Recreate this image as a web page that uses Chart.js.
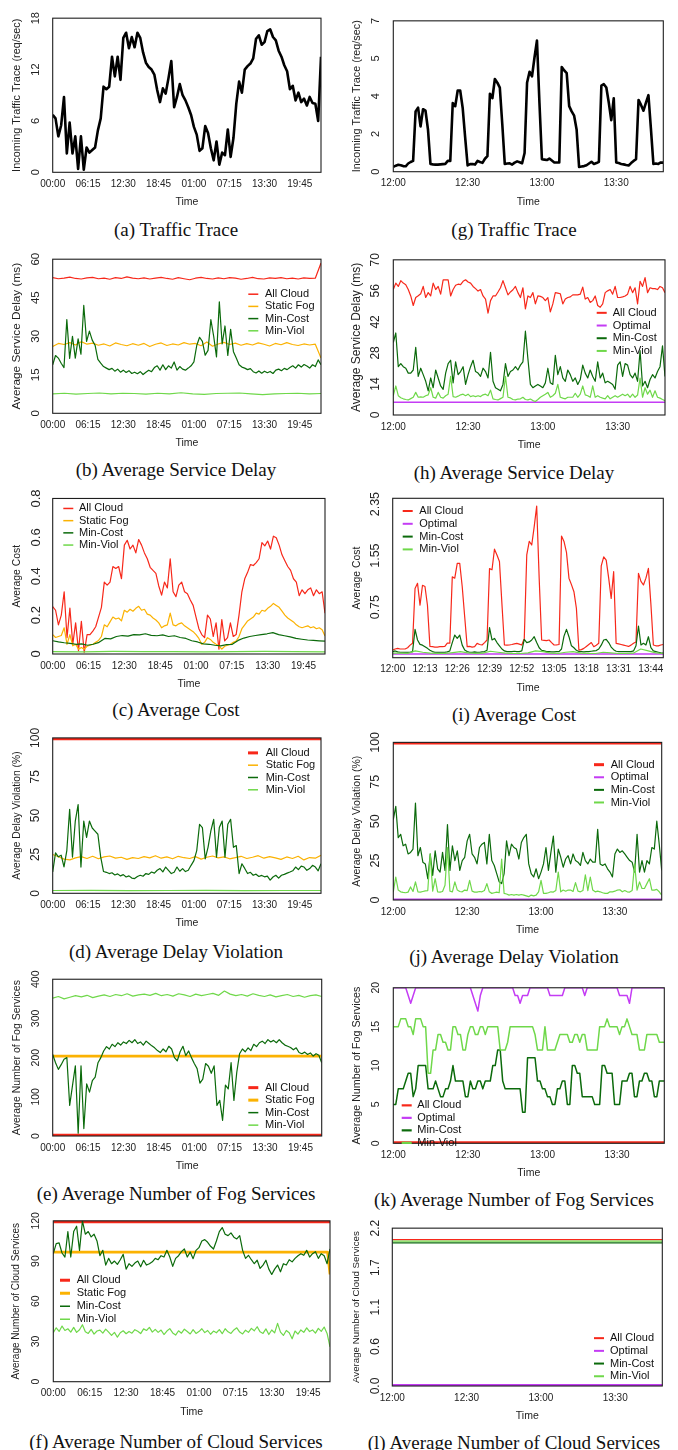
<!DOCTYPE html>
<html>
<head>
<meta charset="utf-8">
<script src="https://cdn.jsdelivr.net/npm/chart.js@4.4.1/dist/chart.umd.min.js"></script>
<style>
  html, body { margin: 0; padding: 0; background: #fff; }
  #page { position: relative; width: 678px; height: 1450px; overflow: hidden; }
  #page canvas { position: absolute; }
  .cap {
    position: absolute; width: 338px; text-align: center; white-space: nowrap;
    font-family: "Liberation Serif", "Times New Roman", serif; font-size: 19px;
    line-height: 22px; color: #111;
  }
</style>
</head>
<body>
<div id="page"></div>
<script>
// ── Time axes ──────────────────────────────────────────────────────────
// Left column: two days, minutes from start. Right column: minutes after 12:00.
const LONG_END = 2850;
const LONG_TICKS = [0, 375, 750, 1125, 1500, 1875, 2250, 2625];
const LONG_LABELS = ['00:00', '06:15', '12:30', '18:45', '01:00', '07:15', '13:30', '19:45'];
const SHORT_END = 109;
const SHORT_TICKS = [0, 30, 60, 90];
const SHORT_LABELS = ['12:00', '12:30', '13:00', '13:30'];
const COST_TICKS = [0, 13, 26, 39, 52, 65, 78, 91, 104];
const COST_LABELS = ['12:00', '12:13', '12:26', '12:39', '12:52', '13:05', '13:18', '13:31', '13:44'];

// ── Y ticks ────────────────────────────────────────────────────────────
const yTicksA = [0, 6, 12, 18],            yLabelsA = ['0', '6', '12', '18'];
const yTicksB = [0, 15, 30, 45, 60],       yLabelsB = ['0', '15', '30', '45', '60'];
const yTicksC = [0, 0.2, 0.4, 0.6, 0.8],   yLabelsC = ['0', '0.2', '0.4', '0.6', '0.8'];
const yTicksD = [0, 25, 50, 75, 100],      yLabelsD = ['0', '25', '50', '75', '100'];
const yTicksE = [0, 100, 200, 300, 400],   yLabelsE = ['0', '100', '200', '300', '400'];
const yTicksF = [0, 30, 60, 90, 120],      yLabelsF = ['0', '30', '60', '90', '120'];
const yTicksG = [0, 1.75, 3.5, 5.25, 7],   yLabelsG = ['0', '2', '4', '5', '7'];
const yTicksH = [0, 14, 28, 42, 56, 70],   yLabelsH = ['0', '14', '28', '42', '56', '70'];
const yTicksI = [0.75, 1.55, 2.35],        yLabelsI = ['0.75', '1.55', '2.35'];
const yTicksJ = [0, 25, 50, 75, 100],      yLabelsJ = ['0', '25', '50', '75', '100'];
const yTicksK = [0, 5, 10, 15, 20],        yLabelsK = ['0', '5', '10', '15', '20'];
const yTicksL = [0, 0.55, 1.1, 1.65, 2.2], yLabelsL = ['0.0', '0.6', '1.1', '1.7', '2.2'];

// ── (a) traffic, two days ──────────────────────────────────────────────
const trafficA = [6.7,6.3,4.2,5.5,8.8,2.2,5.8,2.2,4.2,0.4, 4.2,0.3,2.9,2.3,2.6,2.9,4.9,6.3,10.0,9.7,
  10.0,13.5,11.2,13.5,10.8,15.7,16.3,14.5,15.8,14.6, 16.3,15.7,14.0,12.8,12.3,12.0,11.4,9.6,8.2,9.8,
  9.2,11.0,13.0,7.6,8.8,10.3,9.0,8.4,7.6,6.7, 5.3,4.4,2.5,2.8,5.4,4.6,2.8,1.4,3.6,0.9,
  2.3,2.0,5.0,1.8,4.0,8.0,10.6,9.3,12.0,12.4, 12.7,13.3,15.6,16.0,14.9,15.2,16.5,16.7,15.8,15.4,
  14.2,13.5,12.5,11.8,9.7,10.1,8.4,9.3,8.2,8.6, 7.8,8.8,8.1,8.0,6.0,13.5];

// ── (b) service delay, two days ────────────────────────────────────────
const delayCloudB = [52.8,52.4,52.6,53.0,52.5,52.3,52.7,52.9,52.4,52.6, 52.2,52.8,52.5,53.1,52.6,52.4,52.7,52.3,52.6,52.9,
  52.5,52.2,52.8,52.4,52.0,52.6,52.9,52.5,52.3,52.7, 52.4,52.8,52.6,52.2,52.5,52.9,52.4,52.3,52.7,52.5,
  52.8,52.4,52.6,52.3,52.7,52.5,52.6,58.5];
const delayFogB = [26.0,27.2,26.8,27.5,26.6,27.9,26.9,27.3,26.5,27.0, 26.2,27.4,26.8,26.3,27.1,26.5,27.2,26.0,26.9,27.4,
  26.4,27.0,26.6,27.5,26.9,27.2,26.3,27.8,26.1,27.0, 27.6,26.8,27.3,26.5,27.1,26.6,27.4,26.9,26.2,27.2,
  26.7,27.5,26.8,26.4,27.0,26.6,26.9,21.5];
const delayMinCostB = [18.9,22.5,21.5,19.5,17.8,36.5,21.4,30.0,21.5,29.0, 23.0,42.0,28.0,32.0,28.5,26.5,21.0,19.5,18.2,17.6,
  17.0,17.5,16.4,17.2,16.0,16.8,15.9,16.6,15.5,16.0, 15.4,16.2,15.1,16.0,16.8,16.2,17.8,18.5,16.8,18.9,
  17.0,18.5,17.6,20.0,16.8,18.2,17.2,16.8,17.6,18.5, 20.0,26.4,29.6,28.0,22.6,24.5,36.5,30.0,22.0,43.4,
  27.0,34.0,22.5,32.7,24.0,21.5,18.9,18.0,17.6,17.0, 17.4,16.2,15.7,16.5,15.6,16.4,15.8,16.3,15.5,16.8,
  17.2,16.6,17.5,17.0,17.8,18.5,17.6,18.9,18.0,19.0, 18.4,17.6,18.9,18.2,20.8,18.9];
const delayMinViolB = [7.6,7.8,7.5,7.7,7.9,7.6,7.8,7.7,7.5,7.8,7.6,8.0,7.6,7.4,7.7,7.8,7.9,7.6,7.3,7.6,7.7,7.8,7.6,7.7];

// ── (c) cost, two days ─────────────────────────────────────────────────
const costCloudC = [0.244,0.225,0.15,0.2,0.32,0.084,0.236,0.05,0.16,0.017, 0.168,0.008,0.1,0.1,0.118,0.14,0.19,0.24,0.37,0.354,
  0.37,0.45,0.44,0.45,0.387,0.56,0.585,0.54,0.56,0.52, 0.589,0.56,0.52,0.49,0.446,0.43,0.415,0.35,0.303,0.37,
  0.34,0.49,0.32,0.295,0.354,0.37,0.32,0.31,0.278,0.25, 0.19,0.13,0.1,0.084,0.2,0.18,0.09,0.16,0.025,0.177,
  0.067,0.084,0.16,0.09,0.1,0.2,0.32,0.387,0.42,0.46, 0.455,0.47,0.49,0.573,0.556,0.581,0.54,0.606,0.598,0.56,
  0.51,0.48,0.45,0.43,0.387,0.37,0.30,0.33,0.31,0.33, 0.34,0.30,0.33,0.31,0.32,0.21];
const costFogC = [0.10,0.085,0.09,0.095,0.135,0.05,0.10,0.042,0.05,0.025, 0.034,0.025,0.04,0.045,0.05,0.06,0.07,0.09,0.15,0.14,
  0.165,0.19,0.18,0.185,0.17,0.225,0.215,0.23,0.22,0.235, 0.245,0.225,0.23,0.205,0.2,0.185,0.175,0.16,0.135,0.145,
  0.15,0.21,0.15,0.145,0.155,0.16,0.145,0.135,0.125,0.115, 0.1,0.08,0.05,0.06,0.084,0.075,0.06,0.05,0.042,0.025,
  0.04,0.045,0.05,0.06,0.067,0.09,0.13,0.15,0.17,0.18, 0.19,0.21,0.205,0.225,0.22,0.235,0.245,0.26,0.25,0.24,
  0.22,0.2,0.185,0.175,0.165,0.15,0.14,0.135,0.14,0.145, 0.135,0.14,0.13,0.135,0.125,0.093];
const costMinCostC = [0.068,0.062,0.058,0.055,0.05,0.052,0.045,0.05,0.06,0.08, 0.078,0.09,0.095,0.092,0.1,0.098,0.104,0.096,0.094,0.098,
  0.09,0.094,0.085,0.08,0.068,0.062,0.052,0.05,0.045,0.042, 0.048,0.05,0.07,0.082,0.09,0.095,0.1,0.104,0.11,0.1,
  0.094,0.088,0.08,0.076,0.072,0.07,0.068,0.066];
const costMinViolC = [0.012,0.011,0.013,0.012,0.012,0.011,0.012,0.013,0.012,0.011];

// ── (d) delay violation, two days ──────────────────────────────────────
const violCloudD = [100, 100];
const violFogD = [25.0,23.5,22.0,21.5,22.8,23.6,22.4,23.8,22.2,23.4, 24.0,22.6,23.2,21.8,23.0,22.4,23.6,22.8,24.2,22.6,
  23.4,22.2,23.8,22.9,22.4,23.6,22.0,23.2,24.0,22.8, 23.4,22.2,23.0,23.8,22.4,23.2,24.2,22.6,23.6,22.8,
  21.8,23.4,22.4,23.8,21.5,23.0,22.6,24.5];
const violMinCostD = [13.7,26.0,23.5,24.5,17.0,27.5,54.0,23.3,46.5,57.1, 16.9,46.5,36.0,46.5,42.0,40.0,38.0,23.3,14.0,13.5,
  12.7,13.2,11.8,12.5,11.2,12.0,10.5,11.2,9.8,9.5, 10.8,11.6,11.0,12.7,12.2,13.7,13.0,14.8,15.9,13.8,
  16.9,14.8,12.7,13.5,16.9,14.2,15.9,14.0,14.8,18.0, 21.0,27.5,44.4,42.3,22.2,29.6,40.2,47.6,23.3,42.3,
  46.5,23.3,44.4,47.6,29.6,30.7,12.7,19.0,16.0,12.7, 13.5,11.6,12.3,10.8,11.5,10.6,11.0,8.5,10.5,11.6,
  9.8,11.6,12.2,13.0,13.7,14.5,16.9,15.2,17.5,16.9, 14.8,15.9,18.0,16.9,14.5,19.0];
const violMinViolD = [1.8,1.9,1.7,1.8,1.9,1.7,1.8,1.8];

// ── (e) fog services, two days ─────────────────────────────────────────
const fogCloudE = [0, 0];
const fogStaticE = [204, 204];
const fogMinCostE = [208,187,170,182,196,200,78,129,179,7, 179,19,133,112,141,150,187,200,217,228,
  222,234,228,238,232,240,236,244,238,246, 236,240,232,242,236,230,225,218,213,222,
  215,229,222,200,192,215,229,205,217,200, 185,172,135,145,185,178,160,179,78,91,
  40,130,120,187,91,162,210,222,215,225, 218,234,228,238,242,236,246,240,244,238,
  246,238,232,229,226,220,225,213,210,214, 208,212,204,210,206,187];
const fogMinViolE = [352,356,350,354,358,355,359,353,357,360, 356,361,358,363,357,360,362,359,364,358,
  361,357,363,360,356,362,358,361,364,359, 370,362,358,361,357,363,359,356,360,355,
  358,361,356,359,354,358,360,356];

// ── (f) cloud services, two days ───────────────────────────────────────
const cloudAllF = [120, 120];
const cloudStaticF = [96.7, 96.7, 80];
const cloudStaticFX = [0, 2825, 2850];
const cloudMinCostF = [95.5,103,103.5,96,93,112,93,112,116,98, 120,110,112,108,110,105,94,98,87,92,
  88,90,87.5,91,95,84,88,86,88.5,90, 85.7,90.6,87,88,89.4,92,91,94,93,98,
  93,86,92,94,97,99,93,96.7,91.8,98, 100,105,106,104,101,99,105,112,115,110,
  109,111,107.8,106.5,109,98,92,94.3,91,88, 90.6,84.5,87,90.6,84,80,84,87,82,88,
  87,91,89.4,92,94,95.5,94.3,98,93,95.5, 97,92,95.5,94,88,99];
const cloudMinViolF = [36.5,40.2,37.5,41.5,38.2,39.5,37.0,40.5,36.8,38.8, 42.5,37.2,36.0,39.0,35.5,37.8,38.5,36.2,39.2,37.0,
  34.5,36.8,33.2,36.5,38.0,35.8,37.5,36.2,38.8,37.6, 35.9,39.4,38.2,40.5,37.0,39.0,36.8,38.5,35.2,37.8,
  39.6,36.4,34.8,38.0,36.2,39.2,37.5,35.6,38.8,36.0, 37.4,39.5,36.6,38.2,35.4,37.8,36.5,38.9,35.8,39.5,
  37.2,36.0,38.6,40.2,37.0,35.6,38.4,36.8,39.8,38.0, 41.0,37.2,36.0,39.4,35.2,38.6,36.4,43.5,37.0,34.5,
  38.2,36.5,32.0,37.8,35.5,38.6,36.8,40.2,37.4,38.6, 36.2,39.8,37.5,40.8,36.0,26.0];

// ── (g) traffic, one minute steps from 12:00 ───────────────────────────
const trafficG = [0.22,0.28,0.32,0.30,0.26,0.25,0.38,0.45,0.50,2.80, 2.97,2.10,2.90,2.83,1.96,0.36,0.34,0.33,0.33,0.34,
  0.35,0.36,0.50,0.50,3.19,3.04,3.77,3.77,2.97,1.60, 0.29,0.35,0.36,0.33,0.50,0.45,0.41,0.60,0.72,3.62,
  3.41,4.30,4.13,3.90,2.20,0.36,0.38,0.39,0.33,0.42, 0.48,0.44,0.39,0.87,4.13,4.64,4.42,5.30,6.09,3.20,
  0.58,0.56,0.54,0.61,0.52,0.43,0.43,0.43,4.86,4.70, 4.57,3.04,2.80,2.60,1.96,0.22,0.24,0.26,0.30,0.38,
  0.46,0.36,0.40,0.46,3.99,4.06,3.91,3.20,2.39,3.41, 0.43,0.40,0.36,0.34,0.31,0.29,0.40,0.50,0.58,3.33,
  3.10,2.83,3.20,3.55,2.00,0.36,0.38,0.36,0.43,0.42];

// ── (h) service delay ──────────────────────────────────────────────────
const delayCloudH = [56.6,59.5,58.0,60.6,59.5,58.8,56.6,53.7,49.4,53.0, 53.8,54.7,58.0,53.0,55.2,53.7,59.5,56.6,58.0,54.5,
  61.0,61.0,61.0,53.7,56.6,58.5,59.0,58.8,60.3,61.0, 60.0,59.5,58.0,57.0,55.9,56.6,53.7,52.3,46.0,51.6,
  53.7,53.7,55.5,57.4,60.6,57.4,54.2,55.5,56.5,58.0, 55.2,53.0,57.4,47.9,53.7,53.0,55.2,50.1,53.7,53.5,
  53.0,51.6,53.0,46.5,50.1,55.2,55.0,54.7,50.1,52.3, 53.0,53.3,54.2,54.2,54.2,54.5,57.7,52.3,53.0,50.8,
  51.6,53.7,49.4,48.6,50.1,55.2,56.0,56.6,54.5,58.0, 53.0,53.0,53.3,53.7,54.5,58.0,55.2,57.4,50.1,60.3,
  58.0,62.0,55.2,57.4,57.0,57.0,56.6,58.0,57.4,55.2];
const delayOptH = [5.8, 5.8];
const delayMinCostH = [32.7,37.0,21.8,23.2,21.8,21.1,18.9,18.9,20.3,30.5, 17.4,21.1,18.2,15.2,10.9,16.7,12.3,20.3,16.7,13.1,
  11.6,18.9,23.2,24.7,14.5,24.0,18.2,19.6,21.8,13.8, 18.2,21.8,24.7,19.6,18.9,17.4,21.1,19.6,16.7,28.3,
  15.2,12.3,11.6,10.9,13.8,23.2,17.4,19.6,20.3,21.8, 20.3,22.5,24.0,37.8,25.4,13.8,12.3,13.1,13.8,13.1,
  12.3,14.5,21.1,14.5,13.8,26.9,18.2,21.8,16.7,15.2, 20.3,18.2,15.2,16.7,13.8,16.0,22.5,18.9,16.7,20.3,
  17.4,15.2,24.0,16.7,18.9,14.5,15.2,14.5,13.8,11.6, 22.5,24.0,17.4,23.2,22.5,18.2,16.7,18.9,15.2,29.0,
  13.1,15.2,12.3,16.0,18.2,16.7,19.6,21.8,31.2,17.4];
const delayMinViolH = [8.7,13.1,8.7,7.8,7.3,7.0,6.8,7.4,8.0,10.2, 8.0,8.2,8.0,8.7,9.1,12.3,8.0,7.6,10.2,8.0,
  7.6,8.7,9.4,17.4,8.3,8.0,8.5,9.1,9.4,8.7, 9.4,8.3,8.7,8.3,8.7,8.3,9.1,9.4,8.7,11.2,
  7.3,7.0,6.8,7.4,8.0,17.4,8.0,7.7,7.0,6.8, 7.2,7.3,8.0,7.0,6.8,7.2,6.5,6.1,7.0,8.0,
  8.7,9.4,10.2,8.0,8.7,9.8,13.8,8.0,7.6,7.3, 8.0,8.0,8.0,9.8,8.0,9.4,13.1,9.1,8.7,8.0,
  13.1,8.0,8.7,8.0,7.6,7.3,8.7,7.3,8.0,8.7, 8.0,8.7,9.4,8.7,9.4,8.0,9.4,8.0,9.0,16.7,
  8.0,12.3,9.4,11.2,8.0,10.9,8.0,7.6,7.0,6.5];

// ── (i) cost ───────────────────────────────────────────────────────────
const costCloudI = [0.084,0.10,0.11,0.10,0.10,0.10,0.12,0.16,0.19,1.04, 1.12,0.78,1.09,1.07,0.78,0.14,0.136,0.13,0.13,0.136,
  0.136,0.14,0.19,0.19,1.22,1.20,1.43,1.43,1.07,0.60, 0.136,0.14,0.13,0.136,0.188,0.17,0.162,0.20,0.24,1.35,
  1.33,1.65,1.56,1.46,0.80,0.162,0.16,0.162,0.17,0.18, 0.188,0.175,0.162,0.265,1.56,1.77,1.715,2.00,2.32,1.20,
  0.24,0.235,0.23,0.24,0.20,0.162,0.165,0.17,1.855,1.77, 1.60,1.20,1.10,0.99,0.73,0.084,0.09,0.11,0.14,0.17,
  0.20,0.136,0.16,0.188,1.39,1.53,1.48,1.20,0.887,1.30, 0.188,0.18,0.17,0.16,0.15,0.14,0.16,0.19,0.21,1.275,
  1.15,1.094,1.20,1.353,0.80,0.162,0.15,0.148,0.162,0.17];
const costOptI = [0.022, 0.022];
const costMinCostI = [0.06,0.07,0.055,0.05,0.05,0.05,0.05,0.05,0.06,0.405, 0.24,0.172,0.16,0.136,0.11,0.08,0.06,0.05,0.05,0.05,
  0.05,0.05,0.055,0.07,0.2,0.317,0.265,0.317,0.16,0.084, 0.06,0.05,0.05,0.055,0.05,0.05,0.055,0.06,0.08,0.431,
  0.24,0.265,0.2,0.15,0.1,0.07,0.06,0.06,0.06,0.065, 0.06,0.06,0.07,0.25,0.2,0.21,0.24,0.291,0.2,0.12,
  0.08,0.07,0.06,0.06,0.055,0.055,0.06,0.06,0.1,0.3, 0.405,0.291,0.15,0.12,0.08,0.06,0.06,0.055,0.06,0.06,
  0.065,0.07,0.075,0.1,0.16,0.24,0.25,0.2,0.13,0.09, 0.065,0.06,0.06,0.06,0.06,0.06,0.06,0.07,0.15,0.457,
  0.162,0.188,0.162,0.291,0.12,0.07,0.06,0.05,0.04,0.035];
const costMinViolI = [0.035,0.035,0.03,0.07,0.05,0.035,0.03,0.03,0.045,0.06, 0.04,0.03,0.035,0.065,0.05,0.035,0.03,0.03,0.04,0.07,
  0.06,0.035,0.03,0.05,0.06,0.035,0.03,0.03,0.05,0.04, 0.03,0.03,0.035,0.1,0.07,0.04,0.03];

// ── (j) delay violation ────────────────────────────────────────────────
const violCloudJ = [100, 100];
const violOptJ = [0.3, 0.3];
const violMinCostJ = [51,59.4,39.6,41.7,34.4,35.4,29.2,30.2,32.3,61.5, 28.1,33.3,24,22.9,13.5,29.2,15.6,31.2,19.8,17.7,
  30.2,18.8,47.9,18.8,34.4,25,31.2,18.8,25,27.1, 37.5,41.7,29.2,27.1,22.9,33.3,35.4,36.5,22.9,41.7,
  25,21.9,16.7,11.5,10.4,16.7,37.5,28.1,35.4,33.3, 32.3,26,36.5,39.6,41.7,22.9,16.7,14.6,19.8,13.5,
  17.7,22.9,33.3,18.8,30.2,40.6,17.7,32.3,27.1,20.8, 26,28.1,22.9,29.2,25,24,21.9,30.2,25,22.9,
  26,24,24,44.8,22.9,21.9,22.9,19.8,17.7,14.6, 29.2,32.3,30.2,31.2,29.2,27.1,25,24,17.7,41.7,
  17.7,25,17.7,25,22.9,33.3,32.3,50,35.4,18.8];
const violMinViolJ = [5.2,14.6,6.3,5.2,4.8,4.6,5.0,8.3,5.4,11.5, 5.2,5.0,5.4,5.8,6.0,29.2,5.6,13.5,5.2,5.0,
  5.4,9.4,33.3,5.6,5.2,11.5,6.3,5.4,5.2,6.3, 6.0,12.5,5.6,5.0,5.0,5.4,5.2,6.0,10.4,5.2,
  4.2,4.6,5.0,4.6,26.0,4.2,3.8,3.1,3.5,3.1, 3.5,3.1,3.5,3.1,2.6,2.1,3.1,2.6,3.1,5.2,
  12.5,4.2,4.2,4.6,5.2,5.0,6.0,17.7,5.2,6.3, 5.6,6.3,6.3,5.4,11.0,5.6,5.2,6.0,16.0,6.0,
  14.6,6.3,5.2,5.6,5.2,4.6,4.2,4.2,5.2,5.2, 5.6,6.3,6.5,5.2,6.0,5.2,5.0,6.0,22.9,6.3,
  11.5,7.3,7.3,10.4,13.5,6.3,6.3,6.7,5.2,3.1];

// ── (k) fog services ───────────────────────────────────────────────────
const fogCloudK = [0, 0];
const fogOptK = [20,20,20,20,20,20,19,18,19,20, 20,20,20,20,20,20,20,20,20,20, 20,20,20,20,20,20,20,20,20,20,
  20,20,19,18,17,19,20,20,20,20, 20,20,20,20,20,20,20,20,20,19, 19,18,19,19,19,20,20,20,20,20,
  20,20,20,19,19,19,19,19,19,20, 20,20,20,20,20,20,20,19,20,20, 20,20,20,20,20,20,20,20,20,20,
  20,19,19,19,19,18,20,20,20,20, 20,20,20,20,20,20,20,20,20,20];
const fogMinCostK = [5,5,7,7,7,8,9,9,6,7, 10,10,10,10,7,7,7,8,7,6, 6,7,7,8,10,8,8,8,8,6,
  6,8,7,7,8,8,7,8,8,8, 10,10,12,12,8,7,7,7,7,7, 7,7,4,4,11,11,11,11,8,8,
  7,7,6,6,5,5,7,7,8,8, 5,5,10,10,9,9,6,6,6,6, 6,5,5,5,10,10,9,9,9,5,
  5,5,8,8,8,9,9,6,6,8, 8,9,9,8,8,6,6,8,8,8];
const fogMinViolK = [15,15,15,16,16,16,15,15,14,16, 16,16,15,15,9,9,12,12,14,14, 13,13,12,12,15,15,14,14,12,12,
  14,15,15,14,14,15,15,14,15,15, 15,15,15,12,12,12,13,15,15,15, 15,15,15,15,15,15,15,14,12,12,
  12,15,12,12,12,12,13,14,14,14, 14,13,13,14,14,13,14,14,12,12, 12,12,12,15,15,15,16,15,15,15,
  15,14,15,15,16,15,14,14,14,12, 12,12,14,14,14,14,14,13,13,13];

// ── (l) cloud services ─────────────────────────────────────────────────
const cloudAllL = [2.04, 2.04];
const cloudOptL = [0, 0];
const cloudMinCostL = [1.995, 1.995];
const cloudMinViolL = [2.018, 2.018];

// ── Styling ────────────────────────────────────────────────────────────
const RED = '#f7281a', ORANGE = '#fbb202', DARK = '#0b6a0b', LIGHT = '#6fd84a', PURPLE = '#c43cf4';
const FAMILY = '"Liberation Sans", Arial, sans-serif';
Chart.defaults.font.family = FAMILY;
Chart.defaults.color = '#222';

// Each line: [label, values, colour, width, legend key width, optional x values]
const PANELS = [
  { col: 0, box: [52.7, 13.3, 321, 172.3], cap: '(a) Traffic Trace', capY: 230, long: true,
    yMin: 0, yMax: 18, yTicks: yTicksA, yLabels: yLabelsA, yTitle: 'Incoming Traffic Trace (req/sec)', yTitleSize: 10.9, yTickSize: 11,
    lines: [['Traffic', trafficA, '#000', 2.6]] },
  { col: 0, box: [52.7, 254.3, 321, 413.3], cap: '(b) Average Service Delay', capY: 470, long: true,
    yMin: 0, yMax: 60, yTicks: yTicksB, yLabels: yLabelsB, yTitle: 'Average Service Delay (ms)', yTitleSize: 11.8, yTickSize: 11.5,
    keys: { x: 195.6, y: 35, gap: 12.2, dx: 16.7 },
    lines: [['All Cloud', delayCloudB, RED, 1.2, 1.5], ['Static Fog', delayFogB, ORANGE, 1.2, 1.5],
            ['Min-Cost', delayMinCostB, DARK, 1.2, 1.5], ['Min-Viol', delayMinViolB, LIGHT, 1.2, 1.5]] },
  { col: 0, box: [52.7, 495, 325, 654], cap: '(c) Average Cost', capY: 710, long: true,
    yMin: 0, yMax: 0.8, yTicks: yTicksC, yLabels: yLabelsC, yTitle: 'Average Cost', yTitleSize: 10.4, yTickSize: 13,
    keys: { x: 10.6, y: 10, gap: 12.2, dx: 15.7 },
    lines: [['All Cloud', costCloudC, RED, 1.2, 1.5], ['Static Fog', costFogC, ORANGE, 1.2, 1.5],
            ['Min-Cost', costMinCostC, DARK, 1.2, 1.5], ['Min-Viol', costMinViolC, LIGHT, 1.2, 1.5]] },
  { col: 0, box: [52.7, 735.7, 321, 893.3], cap: '(d) Average Delay Violation', capY: 951.7, long: true,
    yMin: 0, yMax: 100, yTicks: yTicksD, yLabels: yLabelsD, yTitle: 'Average Delay Violation (%)', yTitleSize: 10.3, yTickSize: 12,
    keys: { x: 195.3, y: 15, gap: 12.3, dx: 17.7 },
    lines: [['All Cloud', violCloudD, RED, 4.5, 3], ['Static Fog', violFogD, ORANGE, 1.2, 1.5],
            ['Min-Cost', violMinCostD, DARK, 1.2, 1.5], ['Min-Viol', violMinViolD, LIGHT, 1.2, 1.5]] },
  { col: 0, box: [52.7, 977.3, 321.7, 1136], cap: '(e) Average Number of Fog Services', capY: 1194.3, long: true,
    yMin: 0, yMax: 400, yTicks: yTicksE, yLabels: yLabelsE, yTitle: 'Average Number of Fog Services', yTitleSize: 10.5, yTickSize: 10.5,
    keys: { x: 195.6, y: 108.4, gap: 12.5, dx: 16.7 },
    lines: [['All Cloud', fogCloudE, RED, 4.5, 3], ['Static Fog', fogStaticE, ORANGE, 2.7, 3],
            ['Min-Cost', fogMinCostE, DARK, 1.2, 1.5], ['Min-Viol', fogMinViolE, LIGHT, 1.2, 1.5]] },
  { col: 0, box: [53.3, 1218.3, 330, 1381.7], cap: '(f) Average Number of Cloud Services', capY: 1441.7, long: true,
    yMin: 0, yMax: 120, yTicks: yTicksF, yLabels: yLabelsF, yTitle: 'Average Number of Cloud Services', yTitleSize: 10, yTickSize: 10.5,
    keys: { x: 6.7, y: 59.4, gap: 13, dx: 16.7 },
    lines: [['All Cloud', cloudAllF, RED, 5, 3], ['Static Fog', cloudStaticF, ORANGE, 2.7, 3, cloudStaticFX],
            ['Min-Cost', cloudMinCostF, DARK, 1.2, 1.5], ['Min-Viol', cloudMinViolF, LIGHT, 1.2, 1.5]] },
  { col: 1, box: [393.3, 10.7, 663.3, 171.7], cap: '(g) Traffic Trace', capY: 230,
    yMin: 0, yMax: 7, yTicks: yTicksG, yLabels: yLabelsG, yTitle: 'Incoming Traffic Trace (req/sec)', yTitleSize: 10.8, yTickSize: 11,
    lines: [['Traffic', trafficG, '#000', 2.6]] },
  { col: 1, box: [393.3, 254.3, 665, 415], cap: '(h) Average Service Delay', capY: 473,
    yMin: 0, yMax: 70, yTicks: yTicksH, yLabels: yLabelsH, yTitle: 'Average Service Delay (ms)', yTitleSize: 12, yTickSize: 12,
    keys: { x: 203.4, y: 53, gap: 12.7, dx: 16 },
    lines: [['All Cloud', delayCloudH, RED, 1.2, 2], ['Optimal', delayOptH, PURPLE, 1.5, 2],
            ['Min-Cost', delayMinCostH, DARK, 1.2, 2], ['Min-Viol', delayMinViolH, LIGHT, 1.2, 2]] },
  { col: 1, box: [392.7, 498.3, 663.3, 657.7], cap: '(i) Average Cost', capY: 715, cost: true,
    yMin: -0.035, yMax: 2.44, yTicks: yTicksI, yLabels: yLabelsI, yTitle: 'Average Cost', yTitleSize: 10.4, yTickSize: 12.5,
    keys: { x: 10, y: 12.7, gap: 12.8, dx: 16.6 },
    lines: [['All Cloud', costCloudI, RED, 1.2, 2], ['Optimal', costOptI, PURPLE, 1.5, 2],
            ['Min-Cost', costMinCostI, DARK, 1.2, 2], ['Min-Viol', costMinViolI, LIGHT, 1.2, 2]] },
  { col: 1, box: [393.3, 740, 661.7, 900], cap: '(j) Average Delay Violation', capY: 957.3,
    yMin: 0, yMax: 100, yTicks: yTicksJ, yLabels: yLabelsJ, yTitle: 'Average Delay Violation (%)', yTitleSize: 10.5, yTickSize: 12.5,
    keys: { x: 200.7, y: 22.3, gap: 12.6, dx: 16.7 },
    lines: [['All Cloud', violCloudJ, RED, 4.5, 3], ['Optimal', violOptJ, PURPLE, 2, 2],
            ['Min-Cost', violMinCostJ, DARK, 1.2, 2], ['Min-Viol', violMinViolJ, LIGHT, 1.2, 2]] },
  { col: 1, box: [393.3, 981.7, 664.3, 1143.3], cap: '(k) Average Number of Fog Services', capY: 1200,
    yMin: 0, yMax: 20, yTicks: yTicksK, yLabels: yLabelsK, yTitle: 'Average Number of Fog Services', yTitleSize: 10.7, yTickSize: 10.5,
    keys: { x: 8.4, y: 117.6, gap: 12.5, dx: 15.6 },
    lines: [['All Cloud', fogCloudK, RED, 4, 2.2], ['Optimal', fogOptK, PURPLE, 1.5, 2.2],
            ['Min-Cost', fogMinCostK, DARK, 1.5, 2.2], ['Min-Viol', fogMinViolK, LIGHT, 1.5, 2.2]] },
  { col: 1, box: [392.3, 1225, 662.3, 1386], cap: '(l) Average Number of Cloud Services', capY: 1443.3,
    yMin: 0, yMax: 2.2, yTicks: yTicksL, yLabels: yLabelsL, yTitle: 'Average Number of Cloud Services', yTitleSize: 9.7, yTickSize: 12,
    keys: { x: 201.7, y: 110, gap: 12.7, dx: 16 },
    lines: [['All Cloud', cloudAllL, RED, 1.2, 2], ['Optimal', cloudOptL, PURPLE, 4, 2],
            ['Min-Cost', cloudMinCostL, DARK, 1.2, 2], ['Min-Viol', cloudMinViolL, LIGHT, 1.2, 2]] },
];

// Box around the plot region plus an R-style key drawn inside it
const framePlugin = {
  id: 'frame',
  afterDatasetsDraw(chart, args, opts) {
    const { ctx, chartArea: a } = chart;
    ctx.save();
    ctx.strokeStyle = '#1e1e1e';
    ctx.lineWidth = 1.1;
    ctx.strokeRect(a.left, a.top, a.right - a.left, a.bottom - a.top);
    const k = opts.keys;
    if (k) {
      ctx.font = '11px ' + FAMILY;
      ctx.textBaseline = 'middle';
      ctx.lineCap = 'butt';
      chart.data.datasets.forEach((ds, i) => {
        const x = a.left + k.x, y = a.top + k.y + i * k.gap;
        ctx.strokeStyle = ds.borderColor;
        ctx.lineWidth = ds.keyWidth;
        ctx.beginPath(); ctx.moveTo(x, y); ctx.lineTo(x + 10, y); ctx.stroke();
        ctx.fillStyle = '#111';
        ctx.fillText(ds.label, x + k.dx, y);
      });
    }
    ctx.restore();
  }
};

const measureCtx = document.createElement('canvas').getContext('2d');
function widest(labels, size) {
  measureCtx.font = size + 'px ' + FAMILY;
  return Math.max(...labels.map(s => measureCtx.measureText(s).width));
}

const page = document.getElementById('page');

function buildPanel(p) {
  const left = p.col ? 340 : 0, W = 338;
  const [bl, bt, br, bb] = p.box;
  const top = Math.max(0, Math.round(bt) - 12);
  const H = Math.round(bb - top + 44);
  const xEnd = p.long ? LONG_END : SHORT_END;
  const xTicks = p.long ? LONG_TICKS : (p.cost ? COST_TICKS : SHORT_TICKS);
  const xLabels = p.long ? LONG_LABELS : (p.cost ? COST_LABELS : SHORT_LABELS);

  const cv = document.createElement('canvas');
  cv.width = W; cv.height = H;
  cv.style.left = left + 'px'; cv.style.top = top + 'px';
  page.appendChild(cv);

  const n = p.lines.length;
  const datasets = p.lines.map(([label, ys, color, width, keyWidth, xs], i) => ({
    label,
    data: ys.map((y, j) => ({ x: xs ? xs[j] : j * xEnd / (ys.length - 1), y })),
    borderColor: color,
    borderWidth: width,
    keyWidth,
    pointRadius: 0,
    tension: 0,
    borderJoinStyle: 'round',
    order: n - 1 - i,   // later series sit on top, as in the original plots
  }));

  const yAxisW = bl - left;
  const yPad = yAxisW - 36 - widest(p.yLabels, p.yTickSize) / 2;

  new Chart(cv, {
    type: 'line',
    data: { datasets },
    options: {
      responsive: false,
      devicePixelRatio: 1,
      animation: false,
      events: [],
      layout: { padding: { left: 0, top: bt - top, right: left + W - br, bottom: H - (bb - top) - 42 } },
      scales: {
        x: {
          type: 'linear', min: 0, max: xEnd,
          afterBuildTicks: s => { s.ticks = xTicks.map(v => ({ value: v })); },
          afterFit: s => { s.height = 42; },
          grid: { display: false, drawTicks: false },
          border: { display: false },
          ticks: { autoSkip: false, maxRotation: 0, minRotation: 0, padding: 6, color: '#222',
                   font: { size: 10 }, callback: (v, i) => xLabels[i] },
          title: { display: true, text: 'Time', color: '#222', font: { size: 10.5 }, padding: { top: 0, bottom: 5.7 } },
        },
        y: {
          type: 'linear', min: p.yMin, max: p.yMax,
          afterBuildTicks: s => { s.ticks = p.yTicks.map(v => ({ value: v })); },
          afterFit: s => { s.width = yAxisW; },
          grid: { display: false, drawTicks: false },
          border: { display: false },
          ticks: { autoSkip: false, minRotation: 90, maxRotation: 90, crossAlign: 'center', padding: yPad,
                   color: '#222', font: { size: p.yTickSize }, callback: (v, i) => p.yLabels[i] },
          title: { display: true, text: p.yTitle, color: '#222', font: { size: p.yTitleSize },
                   padding: { top: 16.7 - p.yTitleSize * 0.6, bottom: 0 } },
        },
      },
      plugins: {
        legend: { display: false },
        tooltip: { enabled: false },
        frame: { keys: p.keys || null },
      },
    },
    plugins: [framePlugin],
  });

  const cap = document.createElement('div');
  cap.className = 'cap';
  cap.textContent = p.cap;
  cap.style.left = (p.col ? 345 : 7) + 'px';
  cap.style.top = (p.capY - 11) + 'px';
  page.appendChild(cap);
}

PANELS.forEach(buildPanel);
</script>
</body>
</html>
